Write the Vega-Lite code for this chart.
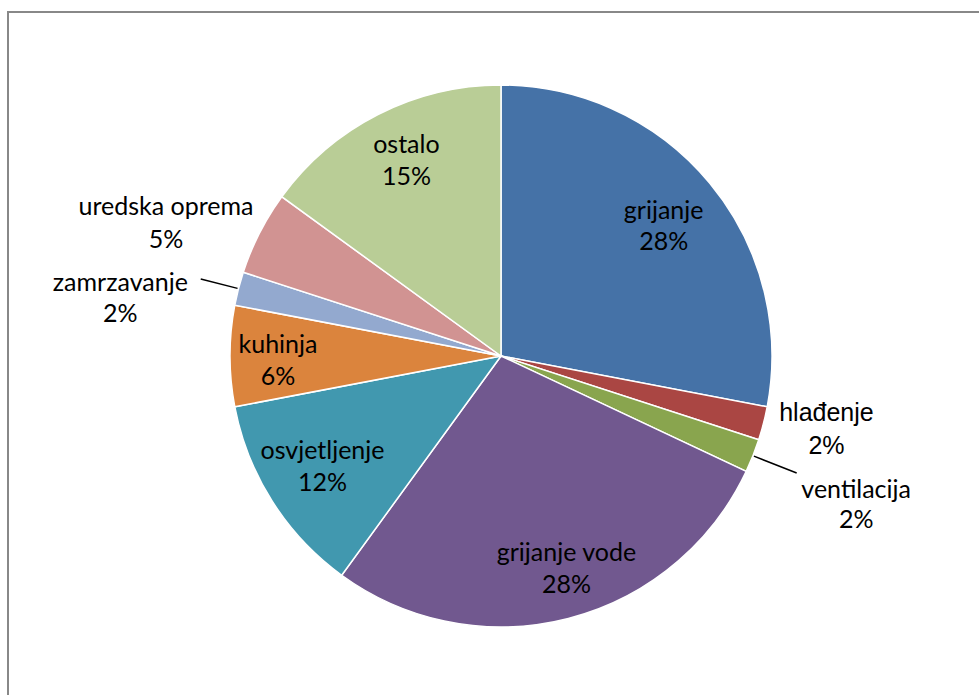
{
  "$schema": "https://vega.github.io/schema/vega-lite/v6.json",
  "width": 986,
  "height": 688,
  "autosize": {"type": "none"},
  "padding": {"left": 8, "top": 12, "right": -15, "bottom": -5},
  "background": "white",
  "config": {
    "view": {"stroke": null},
    "text": {"font": "Lato", "fontSize": 25, "color": "black", "lineBreak": "\n", "lineHeight": 31.5}
  },
  "data": {
    "values": [
      {"idx": 1, "name": "grijanje", "value": 28},
      {"idx": 2, "name": "hlađenje", "value": 2},
      {"idx": 3, "name": "ventilacija", "value": 2},
      {"idx": 4, "name": "grijanje vode", "value": 28},
      {"idx": 5, "name": "osvjetljenje", "value": 12},
      {"idx": 6, "name": "kuhinja", "value": 6},
      {"idx": 7, "name": "zamrzavanje", "value": 2},
      {"idx": 8, "name": "uredska oprema", "value": 5},
      {"idx": 9, "name": "ostalo", "value": 15}
    ]
  },
  "layer": [
    {
      "data": {"values": [{"frame": 1}]},
      "mark": {"type": "rect", "fill": null, "stroke": "#888888", "strokeWidth": 2},
      "encoding": {
        "x": {"value": 0},
        "x2": {"value": "width"},
        "y": {"value": 0},
        "y2": {"value": "height"}
      }
    },
    {
      "transform": [
        {"calculate": "datum.name + '\\n' + datum.value + '%'", "as": "label"}
      ],
      "encoding": {
        "theta": {"field": "value", "type": "quantitative", "stack": true, "scale": {"domain": [0, 100]}},
        "order": {"field": "idx", "type": "quantitative"}
      },
      "layer": [
        {
          "mark": {"type": "arc", "outerRadius": 271, "stroke": "white", "strokeWidth": 1.5},
          "encoding": {
            "color": {
              "field": "name",
              "type": "nominal",
              "legend": null,
              "scale": {
                "domain": ["grijanje", "hlađenje", "ventilacija", "grijanje vode", "osvjetljenje", "kuhinja", "zamrzavanje", "uredska oprema", "ostalo"],
                "range": ["#4572A7", "#AA4643", "#89A54E", "#71588F", "#4198AF", "#DB843D", "#93A9CF", "#D19392", "#B9CD96"]
              }
            }
          }
        },
        {
          "mark": {"type": "arc", "radius": 318, "radius2": 272, "padAngle": 3, "fill": null, "strokeWidth": 1.5},
          "encoding": {
            "stroke": {"condition": {"test": "datum.name === 'ventilacija'", "value": "black"}, "value": null}
          }
        },
        {
          "mark": {"type": "arc", "radius": 310, "radius2": 272, "padAngle": 3, "fill": null, "strokeWidth": 1.5},
          "encoding": {
            "stroke": {"condition": {"test": "datum.name === 'zamrzavanje'", "value": "black"}, "value": null}
          }
        },
        {
          "mark": {"type": "text", "radius": 215, "dx": -3, "dy": -8},
          "encoding": {"text": {"condition": {"test": "datum.name === 'grijanje'", "field": "label"}, "value": ""}}
        },
        {
          "mark": {"type": "text", "radius": 215, "dx": 3, "dy": -19},
          "encoding": {"text": {"condition": {"test": "datum.name === 'ostalo'", "field": "label"}, "value": ""}}
        },
        {
          "mark": {"type": "text", "radius": 215, "dx": 12, "dy": -11},
          "encoding": {"text": {"condition": {"test": "datum.name === 'grijanje vode'", "field": "label"}, "value": ""}}
        },
        {
          "mark": {"type": "text", "radius": 215, "dx": 3, "dy": -20},
          "encoding": {"text": {"condition": {"test": "datum.name === 'osvjetljenje'", "field": "label"}, "value": ""}}
        },
        {
          "mark": {"type": "text", "radius": 215, "dx": -8, "dy": -11},
          "encoding": {"text": {"condition": {"test": "datum.name === 'kuhinja'", "field": "label"}, "value": ""}}
        },
        {
          "mark": {"type": "text", "radius": 336, "dx": 0, "dy": -27, "font": "Liberation Sans", "fontSize": 25, "lineHeight": 33},
          "encoding": {"text": {"condition": {"test": "datum.name === 'hlađenje'", "field": "label"}, "value": ""}}
        },
        {
          "mark": {"type": "text", "radius": 382, "dy": -7, "lineHeight": 30},
          "encoding": {"text": {"condition": {"test": "datum.name === 'ventilacija'", "field": "label"}, "value": ""}}
        },
        {
          "mark": {"type": "text", "radius": 376, "dy": 22, "lineHeight": 33},
          "encoding": {"text": {"condition": {"test": "datum.name === 'uredska oprema'", "field": "label"}, "value": ""}}
        },
        {
          "mark": {"type": "text", "radius": 393, "dy": 25, "lineHeight": 31},
          "encoding": {"text": {"condition": {"test": "datum.name === 'zamrzavanje'", "field": "label"}, "value": ""}}
        }
      ]
    }
  ]
}
